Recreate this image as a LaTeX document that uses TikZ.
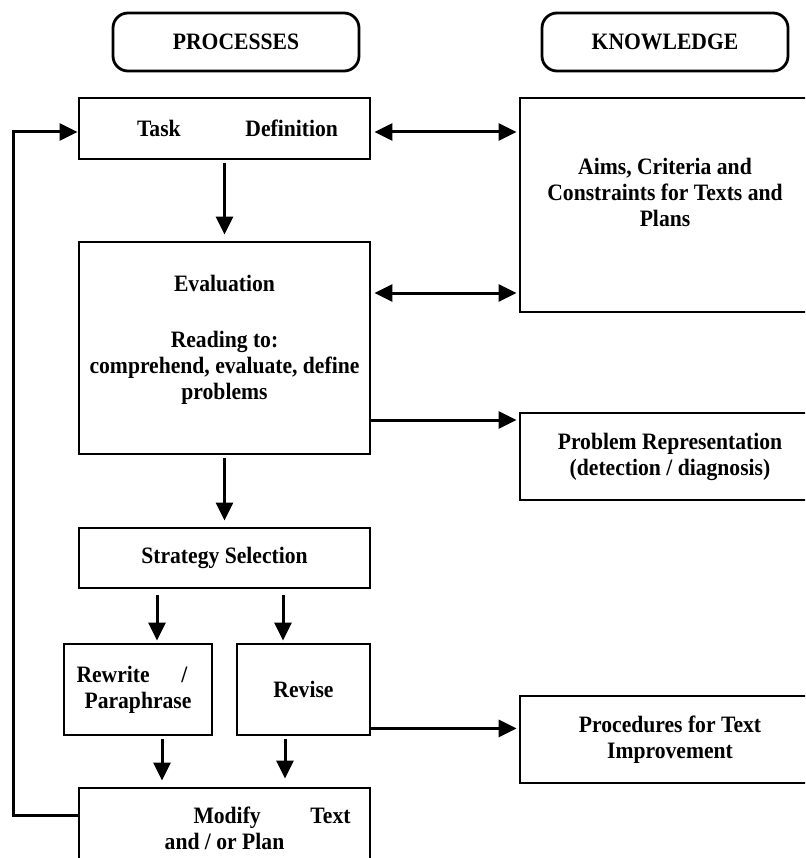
\documentclass[tikz,border=0pt]{standalone}
\usepackage{fontspec}
\setmainfont{Liberation Serif}[FakeStretch=0.92]
\usetikzlibrary{arrows.meta, positioning, calc}

\begin{document}
\begin{tikzpicture}[
    x=1pt, y=-1pt,
    font=\fontsize{23.5}{26}\selectfont\bfseries,
    box/.style={rectangle, draw, line width=2.8pt, align=center, inner sep=0pt},
    headbox/.style={box, rounded corners=15pt, minimum width=246pt, minimum height=58pt},
    arrow/.style={-{Triangle[length=18pt,width=17pt]}, line width=3pt, shorten >=2pt},
    dblarrow/.style={{Triangle[length=18pt,width=17pt]}-{Triangle[length=18pt,width=17pt]}, line width=3pt, shorten <=3pt, shorten >=2pt}
]
\clip (0,0) rectangle (805,858);
% column heads
\node[headbox] (prochead) at (236,42) {PROCESSES};
\node[headbox] (knowhead) at (665,42) {KNOWLEDGE};
% processes
\node[box, minimum width=291pt, minimum height=61pt] (task) at (224.5,128.5) {\hspace*{26pt}\makebox[201pt]{Task\hfill Definition}};
\node[box, minimum width=291pt, minimum height=212pt] (eval) at (224.5,348) {Evaluation\\[30.5pt]Reading to:\\comprehend, evaluate, define\\problems\\[-4.5pt]\mbox{}};
\node[box, minimum width=291pt, minimum height=60pt] (strat) at (224.5,558) {Strategy Selection};
\node[box, minimum width=148pt, minimum height=91pt] (rewrite) at (138,689.5) {\makebox[111pt]{Rewrite\hfill/}\hspace*{12pt}\\Paraphrase};
\node[box, minimum width=133pt, minimum height=91pt] (revise) at (303.5,689.5) {Revise};
\node[box, minimum width=291pt, minimum height=80pt] (modify) at (224.5,828) {\hspace*{95pt}\makebox[157pt]{Modify\hfill Text}\\and / or Plan};
% knowledge
\node[box, minimum width=290pt, minimum height=214pt] (aims) at (665,205) {Aims, Criteria and\\Constraints for Texts and\\Plans\\[-0.5pt]\mbox{}};
\node[box, minimum width=300pt, minimum height=87pt] (problem) at (670,456.5) {Problem Representation\\(detection / diagnosis)};
\node[box, minimum width=300pt, minimum height=87pt] (improve) at (670,739.5) {Procedures for Text\\Improvement};
% connectors
\draw[arrow, shorten <=3pt, shorten >=6pt] (task) -- (eval);
\draw[arrow, shorten <=3pt, shorten >=6pt] (eval) -- (strat);
\draw[dblarrow] ([yshift=-3.5pt]task.east) -- ([yshift=-3.5pt]task.east -| aims.west);
\draw[dblarrow] ([yshift=55pt]eval.east) -- ([yshift=55pt]eval.east -| aims.west);
\draw[arrow] ([yshift=-72pt]eval.east) -- ([yshift=-72pt]eval.east -| problem.west);
\draw[arrow, shorten <=6pt] ([xshift=19pt]rewrite.north |- strat.south) -- ([xshift=19pt]rewrite.north);
\draw[arrow, shorten <=6pt] ([xshift=-20.5pt]revise.north |- strat.south) -- ([xshift=-20.5pt]revise.north);
\draw[arrow, shorten <=3pt, shorten >=6pt] ([xshift=24pt]rewrite.south) -- ([xshift=24pt]rewrite.south |- modify.north);
\draw[arrow, shorten <=3pt, shorten >=8pt] ([xshift=-18.5pt]revise.south) -- ([xshift=-18.5pt]revise.south |- modify.north);
\draw[arrow] ([yshift=8pt]revise.south east) -- ([yshift=8pt]revise.south east -| improve.west);
% feedback loop
\coordinate (loop) at (13,500);
\draw[arrow, shorten >=0pt] ([yshift=13pt]modify.west) -| (loop) |- ([yshift=-3.5pt]task.west);
\end{tikzpicture}
\end{document}
